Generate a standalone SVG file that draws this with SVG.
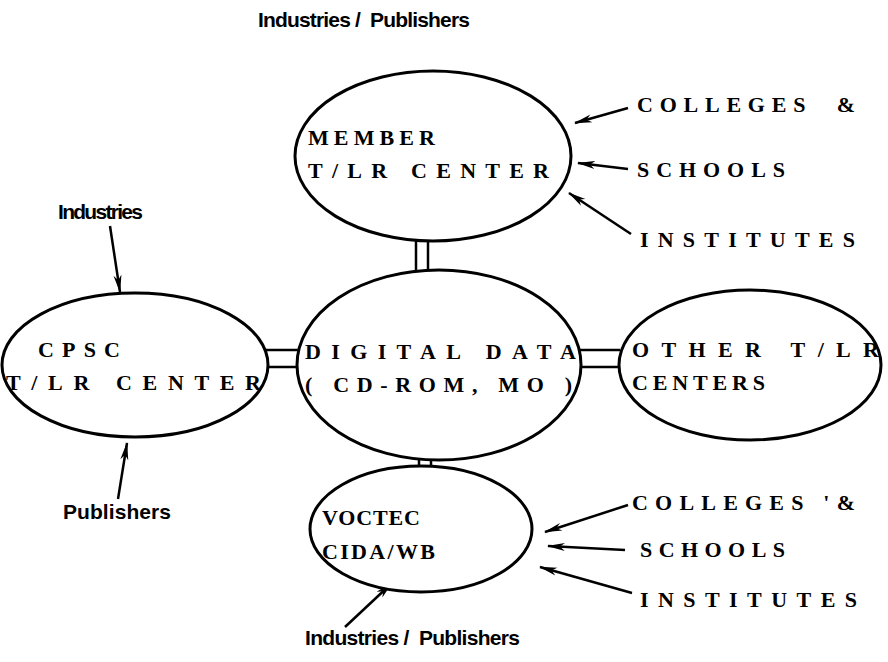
<svg xmlns="http://www.w3.org/2000/svg" width="888" height="662" viewBox="0 0 888 662">
<defs>
<marker id="ah" markerWidth="18" markerHeight="10" refX="17" refY="5" orient="auto" markerUnits="userSpaceOnUse">
<path d="M0,1 L18,5 L0,9 L5,5 Z" fill="#000"/>
</marker>
<style>
.node ellipse{fill:#fff;stroke:#000;stroke-width:3}
.cap{font-family:"Liberation Serif","DejaVu Serif",serif;font-weight:bold;font-size:22px;fill:#000}
.lab{font-family:"Liberation Sans","DejaVu Sans",sans-serif;font-weight:bold;font-size:21px;fill:#000}
.link line{stroke:#000;stroke-width:2.5}
.arr line{stroke:#000;stroke-width:2.5;marker-end:url(#ah)}
</style>
</defs>
<rect width="888" height="662" fill="#fff"/>
<g id="connectors">
<g class="link">
<line x1="416" y1="240" x2="416" y2="272"/><line x1="428" y1="240" x2="428" y2="272"/>
<line x1="419" y1="457" x2="419" y2="468"/><line x1="431" y1="457" x2="431" y2="468"/>
<line x1="265" y1="350" x2="302" y2="350"/><line x1="265" y1="367" x2="302" y2="367"/>
<line x1="579" y1="350" x2="620" y2="350"/><line x1="579" y1="367" x2="620" y2="367"/>
</g>
<g class="arr">
<line x1="628" y1="108" x2="575" y2="123"/>
<line x1="628" y1="169" x2="578" y2="163"/>
<line x1="631" y1="234" x2="569" y2="193"/>
<line x1="110" y1="226" x2="120" y2="292"/>
<line x1="118" y1="499" x2="127" y2="443"/>
<line x1="628" y1="505" x2="545" y2="532"/>
<line x1="625" y1="550" x2="548" y2="546"/>
<line x1="632" y1="593" x2="540" y2="567"/>
<line x1="345" y1="627" x2="392" y2="583"/>
</g>
</g>
<g id="member" class="node">
<ellipse cx="433" cy="156" rx="138" ry="85"/>
<text class="cap" x="308" y="145" textLength="127" lengthAdjust="spacing">MEMBER</text>
<text class="cap" x="308" y="178" textLength="241" lengthAdjust="spacing">T/LR CENTER</text>
</g>
<g id="digital" class="node">
<ellipse cx="439" cy="365" rx="142" ry="95"/>
<text class="cap" x="305" y="359" textLength="271" lengthAdjust="spacing">DIGITAL DATA</text>
<text class="cap" x="305" y="392" textLength="267" lengthAdjust="spacing">( CD-ROM, MO )</text>
</g>
<g id="cpsc" class="node">
<ellipse cx="135" cy="365" rx="133" ry="72"/>
<text class="cap" x="38" y="357" textLength="82" lengthAdjust="spacing">CPSC</text>
<text class="cap" x="6" y="390" textLength="255" lengthAdjust="spacing">T/LR CENTER</text>
</g>
<g id="other" class="node">
<ellipse cx="750" cy="365" rx="131" ry="75"/>
<text class="cap" x="632" y="357" textLength="247" lengthAdjust="spacing">OTHER T/LR</text>
<text class="cap" x="632" y="390" textLength="133" lengthAdjust="spacing">CENTERS</text>
</g>
<g id="voctec" class="node">
<ellipse cx="421" cy="529" rx="111" ry="63"/>
<text class="cap" x="322" y="525" textLength="98" lengthAdjust="spacing">VOCTEC</text>
<text class="cap" x="322" y="559" textLength="113" lengthAdjust="spacing">CIDA/WB</text>
</g>
<g id="labels">
<text class="lab" x="258" y="27" textLength="212" lengthAdjust="spacing" xml:space="preserve">Industries /  Publishers</text>
<text class="cap" x="637" y="112" textLength="218" lengthAdjust="spacing" xml:space="preserve">COLLEGES  &amp;</text>
<text class="cap" x="637" y="177" textLength="148" lengthAdjust="spacing">SCHOOLS</text>
<text class="cap" x="640" y="247" textLength="215" lengthAdjust="spacing">INSTITUTES</text>
<text class="lab" x="58" y="219" textLength="85" lengthAdjust="spacing">Industries</text>
<text class="lab" x="63" y="519" textLength="108" lengthAdjust="spacing">Publishers</text>
<text class="cap" x="632" y="510" textLength="223" lengthAdjust="spacing" xml:space="preserve">COLLEGES '&amp;</text>
<text class="cap" x="640" y="557" textLength="145" lengthAdjust="spacing">SCHOOLS</text>
<text class="cap" x="640" y="607" textLength="217" lengthAdjust="spacing">INSTITUTES</text>
<text class="lab" x="305" y="645" textLength="215" lengthAdjust="spacing" xml:space="preserve">Industries /  Publishers</text>
</g>
</svg>
